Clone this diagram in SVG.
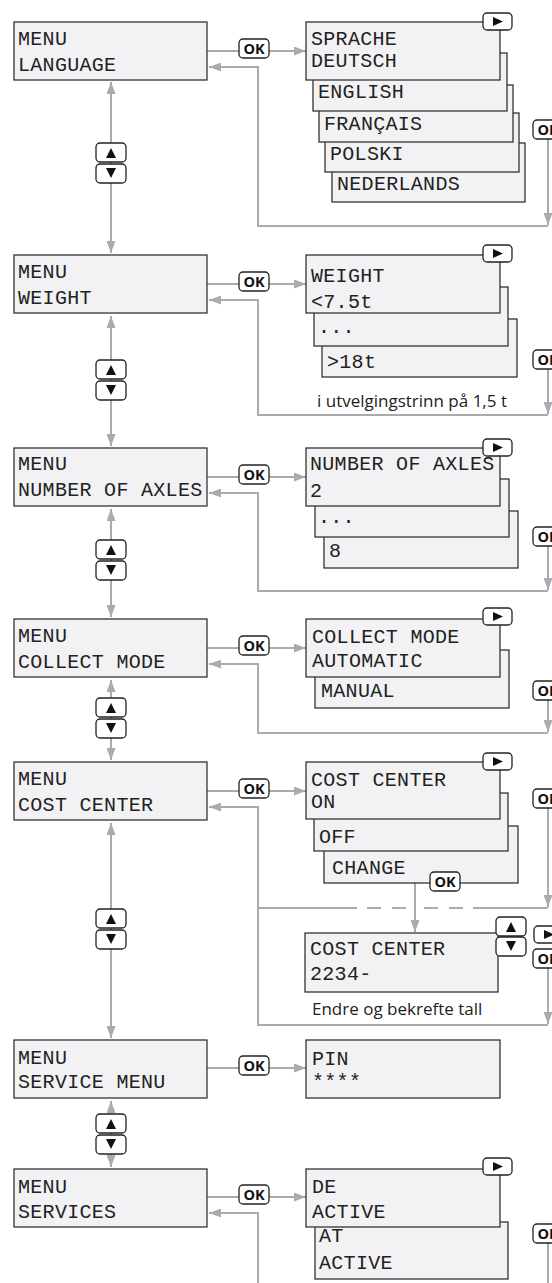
<svg xmlns="http://www.w3.org/2000/svg" xmlns:xlink="http://www.w3.org/1999/xlink" width="552" height="1283" viewBox="0 0 552 1283">
<style>
.box{fill:#f2f2f4;stroke:#333;stroke-width:1.3}
.lcd{font-family:"Liberation Mono","DejaVu Sans Mono",monospace;font-size:20px;letter-spacing:0.3px;fill:#222}
.con{stroke:#a9abb0;stroke-width:2;fill:none}
.btn{fill:#fff;stroke:#222;stroke-width:1.3}
.tri{fill:#111}
.ok{font-family:"Open Sans","Noto Sans",sans-serif;font-weight:700;font-size:14.5px;text-anchor:middle;fill:#111}
.lbl{font-family:"Open Sans","Noto Sans",sans-serif;font-size:17px;fill:#222}
</style>
<defs>
<marker id="ah" viewBox="0 0 12 9" refX="12" refY="4.5" markerWidth="12" markerHeight="9" markerUnits="userSpaceOnUse" orient="auto-start-reverse"><path d="M0,0 L12,4.5 L0,9 z" fill="#a9abb0"/></marker>
<g id="bUp"><rect width="30" height="19" rx="4" class="btn"/><path d="M10,15 L15,5 L20,15 z" class="tri"/></g>
<g id="bDn"><rect width="30" height="19" rx="4" class="btn"/><path d="M10,4 L20,4 L15,14 z" class="tri"/></g>
<g id="bRt"><rect width="29" height="17" rx="4" class="btn"/><path d="M10,4 L20,8.5 L10,13 z" class="tri"/></g>
<rect id="bOk" width="30" height="19" rx="4" class="btn"/>
</defs>

<g id="connectors">
<line class="con" x1="111" y1="82" x2="111" y2="253" marker-start="url(#ah)" marker-end="url(#ah)"/>
<line class="con" x1="111" y1="316" x2="111" y2="446" marker-start="url(#ah)" marker-end="url(#ah)"/>
<line class="con" x1="111" y1="509" x2="111" y2="617" marker-start="url(#ah)" marker-end="url(#ah)"/>
<line class="con" x1="111" y1="680" x2="111" y2="760" marker-start="url(#ah)" marker-end="url(#ah)"/>
<line class="con" x1="111" y1="823" x2="111" y2="1038" marker-start="url(#ah)" marker-end="url(#ah)"/>
<line class="con" x1="111" y1="1101" x2="111" y2="1167" marker-start="url(#ah)" marker-end="url(#ah)"/>
<line class="con" x1="207" y1="51" x2="306" y2="51" marker-end="url(#ah)"/>
<line class="con" x1="207" y1="284" x2="306" y2="284" marker-end="url(#ah)"/>
<line class="con" x1="207" y1="477" x2="306" y2="477" marker-end="url(#ah)"/>
<line class="con" x1="207" y1="648" x2="306" y2="648" marker-end="url(#ah)"/>
<line class="con" x1="207" y1="791" x2="306" y2="791" marker-end="url(#ah)"/>
<line class="con" x1="207" y1="1068" x2="306" y2="1068" marker-end="url(#ah)"/>
<line class="con" x1="207" y1="1197" x2="306" y2="1197" marker-end="url(#ah)"/>
<line class="con" x1="548" y1="139" x2="548" y2="225" marker-end="url(#ah)"/>
<line class="con" x1="548" y1="369" x2="548" y2="414" marker-end="url(#ah)"/>
<line class="con" x1="548" y1="546" x2="548" y2="590" marker-end="url(#ah)"/>
<line class="con" x1="548" y1="700" x2="548" y2="732" marker-end="url(#ah)"/>
<line class="con" x1="548" y1="808" x2="548" y2="907" marker-end="url(#ah)"/>
<line class="con" x1="548" y1="968" x2="548" y2="1024" marker-end="url(#ah)"/>
<line class="con" x1="548" y1="1243" x2="548" y2="1283"/>
<polyline class="con" points="548,226 258,226 258,67 209,67" marker-end="url(#ah)"/>
<polyline class="con" points="548,415 258,415 258,300 209,300" marker-end="url(#ah)"/>
<polyline class="con" points="548,591 258,591 258,493 209,493" marker-end="url(#ah)"/>
<polyline class="con" points="548,733 258,733 258,664 209,664" marker-end="url(#ah)"/>
<polyline class="con" points="548,1025 258,1025 258,807 209,807" marker-end="url(#ah)"/>
<path class="con" d="M258,908 H357 M367,908 H381 M392,908 H406 M424,908 H438 M449,908 H463 M473,908 H548"/>
<line class="con" x1="415" y1="883" x2="415" y2="932" marker-end="url(#ah)"/>
<polyline class="con" points="258,1283 258,1213 209,1213" marker-end="url(#ah)"/>
</g>

<g id="nav-buttons">
<use xlink:href="#bUp" x="96" y="143"/><use xlink:href="#bDn" x="96" y="164"/>
<use xlink:href="#bUp" x="96" y="360"/><use xlink:href="#bDn" x="96" y="381"/>
<use xlink:href="#bUp" x="96" y="540"/><use xlink:href="#bDn" x="96" y="561"/>
<use xlink:href="#bUp" x="96" y="698"/><use xlink:href="#bDn" x="96" y="719"/>
<use xlink:href="#bUp" x="96" y="909"/><use xlink:href="#bDn" x="96" y="930"/>
<use xlink:href="#bUp" x="96" y="1114"/><use xlink:href="#bDn" x="96" y="1135"/>
</g>

<g id="ok-buttons">
<use xlink:href="#bOk" x="239" y="39"/><text class="ok" x="254" y="54">OK</text>
<use xlink:href="#bOk" x="239" y="272"/><text class="ok" x="254" y="287">OK</text>
<use xlink:href="#bOk" x="239" y="465"/><text class="ok" x="254" y="480">OK</text>
<use xlink:href="#bOk" x="239" y="636"/><text class="ok" x="254" y="651">OK</text>
<use xlink:href="#bOk" x="239" y="779"/><text class="ok" x="254" y="794">OK</text>
<use xlink:href="#bOk" x="239" y="1056"/><text class="ok" x="254" y="1071">OK</text>
<use xlink:href="#bOk" x="239" y="1185"/><text class="ok" x="254" y="1200">OK</text>
<use xlink:href="#bOk" x="533" y="120"/><text class="ok" x="548" y="135">OK</text>
<use xlink:href="#bOk" x="533" y="350"/><text class="ok" x="548" y="365">OK</text>
<use xlink:href="#bOk" x="533" y="527"/><text class="ok" x="548" y="542">OK</text>
<use xlink:href="#bOk" x="533" y="681"/><text class="ok" x="548" y="696">OK</text>
<use xlink:href="#bOk" x="533" y="789"/><text class="ok" x="548" y="804">OK</text>
<use xlink:href="#bOk" x="533" y="949"/><text class="ok" x="548" y="964">OK</text>
<use xlink:href="#bOk" x="533" y="1224"/><text class="ok" x="548" y="1239">OK</text>
<use xlink:href="#bRt" x="534" y="926"/>
</g>

<g id="menu-language">
<rect class="box" x="14" y="22" width="193" height="58"/>
<text class="lcd" x="18" y="45">MENU</text><text class="lcd" x="18" y="71">LANGUAGE</text>
</g>
<g id="menu-weight">
<rect class="box" x="14" y="255" width="193" height="58"/>
<text class="lcd" x="18" y="278">MENU</text><text class="lcd" x="18" y="304">WEIGHT</text>
</g>
<g id="menu-axles">
<rect class="box" x="14" y="448" width="193" height="58"/>
<text class="lcd" x="18" y="470">MENU</text><text class="lcd" x="18" y="496">NUMBER OF AXLES</text>
</g>
<g id="menu-collect">
<rect class="box" x="14" y="619" width="193" height="58"/>
<text class="lcd" x="18" y="642">MENU</text><text class="lcd" x="18" y="668">COLLECT MODE</text>
</g>
<g id="menu-cost">
<rect class="box" x="14" y="762" width="193" height="58"/>
<text class="lcd" x="18" y="785">MENU</text><text class="lcd" x="18" y="811">COST CENTER</text>
</g>
<g id="menu-service">
<rect class="box" x="14" y="1040" width="193" height="58"/>
<text class="lcd" x="18" y="1064">MENU</text><text class="lcd" x="18" y="1088">SERVICE MENU</text>
</g>
<g id="menu-services">
<rect class="box" x="14" y="1169" width="193" height="58"/>
<text class="lcd" x="18" y="1193">MENU</text><text class="lcd" x="18" y="1218">SERVICES</text>
</g>

<g id="sub-language">
<rect class="box" x="332" y="143" width="193" height="59"/><text class="lcd" x="337" y="190">NEDERLANDS</text>
<rect class="box" x="325" y="113" width="194" height="59"/><text class="lcd" x="330" y="160">POLSKI</text>
<rect class="box" x="319" y="85" width="194" height="57"/><text class="lcd" x="324" y="130">FRANÇAIS</text>
<rect class="box" x="313" y="53" width="194" height="58"/><text class="lcd" x="318" y="98">ENGLISH</text>
<rect class="box" x="306" y="22" width="194" height="58"/><text class="lcd" x="311" y="45">SPRACHE</text><text class="lcd" x="311" y="67">DEUTSCH</text>
<use xlink:href="#bRt" x="483" y="13"/>
</g>
<g id="sub-weight">
<rect class="box" x="322" y="319" width="195" height="58"/><text class="lcd" x="327" y="368">&gt;18t</text>
<rect class="box" x="314" y="287" width="194" height="59"/><text class="lcd" x="318" y="333">...</text>
<rect class="box" x="306" y="255" width="194" height="58"/><text class="lcd" x="311" y="282">WEIGHT</text><text class="lcd" x="311" y="308">&lt;7.5t</text>
<use xlink:href="#bRt" x="483" y="245"/>
<text class="lbl" x="317" y="407">i utvelgingstrinn på 1,5 t</text>
</g>
<g id="sub-axles">
<rect class="box" x="324" y="511" width="194" height="57"/><text class="lcd" x="329" y="557">8</text>
<rect class="box" x="315" y="479" width="194" height="58"/><text class="lcd" x="318" y="523">...</text>
<rect class="box" x="306" y="448" width="194" height="58"/><text class="lcd" x="310" y="470">NUMBER OF AXLES</text><text class="lcd" x="310" y="497">2</text>
<use xlink:href="#bRt" x="483" y="439"/>
</g>
<g id="sub-collect">
<rect class="box" x="315" y="650" width="194" height="58"/><text class="lcd" x="321" y="697">MANUAL</text>
<rect class="box" x="306" y="619" width="194" height="58"/><text class="lcd" x="312" y="643">COLLECT MODE</text><text class="lcd" x="312" y="667">AUTOMATIC</text>
<use xlink:href="#bRt" x="483" y="608"/>
</g>
<g id="sub-cost">
<rect class="box" x="324" y="826" width="194" height="57"/><text class="lcd" x="332" y="874">CHANGE</text>
<rect class="box" x="314" y="793" width="194" height="58"/><text class="lcd" x="319" y="843">OFF</text>
<rect class="box" x="306" y="762" width="194" height="57"/><text class="lcd" x="311" y="786">COST CENTER</text><text class="lcd" x="311" y="808">ON</text>
<use xlink:href="#bRt" x="483" y="753"/>
<use xlink:href="#bOk" x="430" y="872"/><text class="ok" x="445" y="887">OK</text>
</g>
<g id="cost-edit">
<rect class="box" x="305" y="933" width="193" height="59"/><text class="lcd" x="310" y="955">COST CENTER</text><text class="lcd" x="310" y="980">2234-</text>
<use xlink:href="#bUp" x="496" y="917"/><use xlink:href="#bDn" x="496" y="937"/>
<text class="lbl" x="312" y="1015">Endre og bekrefte tall</text>
</g>
<g id="sub-pin">
<rect class="box" x="306" y="1040" width="194" height="58"/><text class="lcd" x="312" y="1065">PIN</text><text class="lcd" x="312" y="1088">****</text>
</g>
<g id="sub-services">
<rect class="box" x="315" y="1222" width="193" height="57"/><text class="lcd" x="319" y="1242">AT</text><text class="lcd" x="319" y="1269">ACTIVE</text>
<rect class="box" x="306" y="1169" width="194" height="58"/><text class="lcd" x="312" y="1193">DE</text><text class="lcd" x="312" y="1218">ACTIVE</text>
<use xlink:href="#bRt" x="483" y="1158"/>
</g>
</svg>
